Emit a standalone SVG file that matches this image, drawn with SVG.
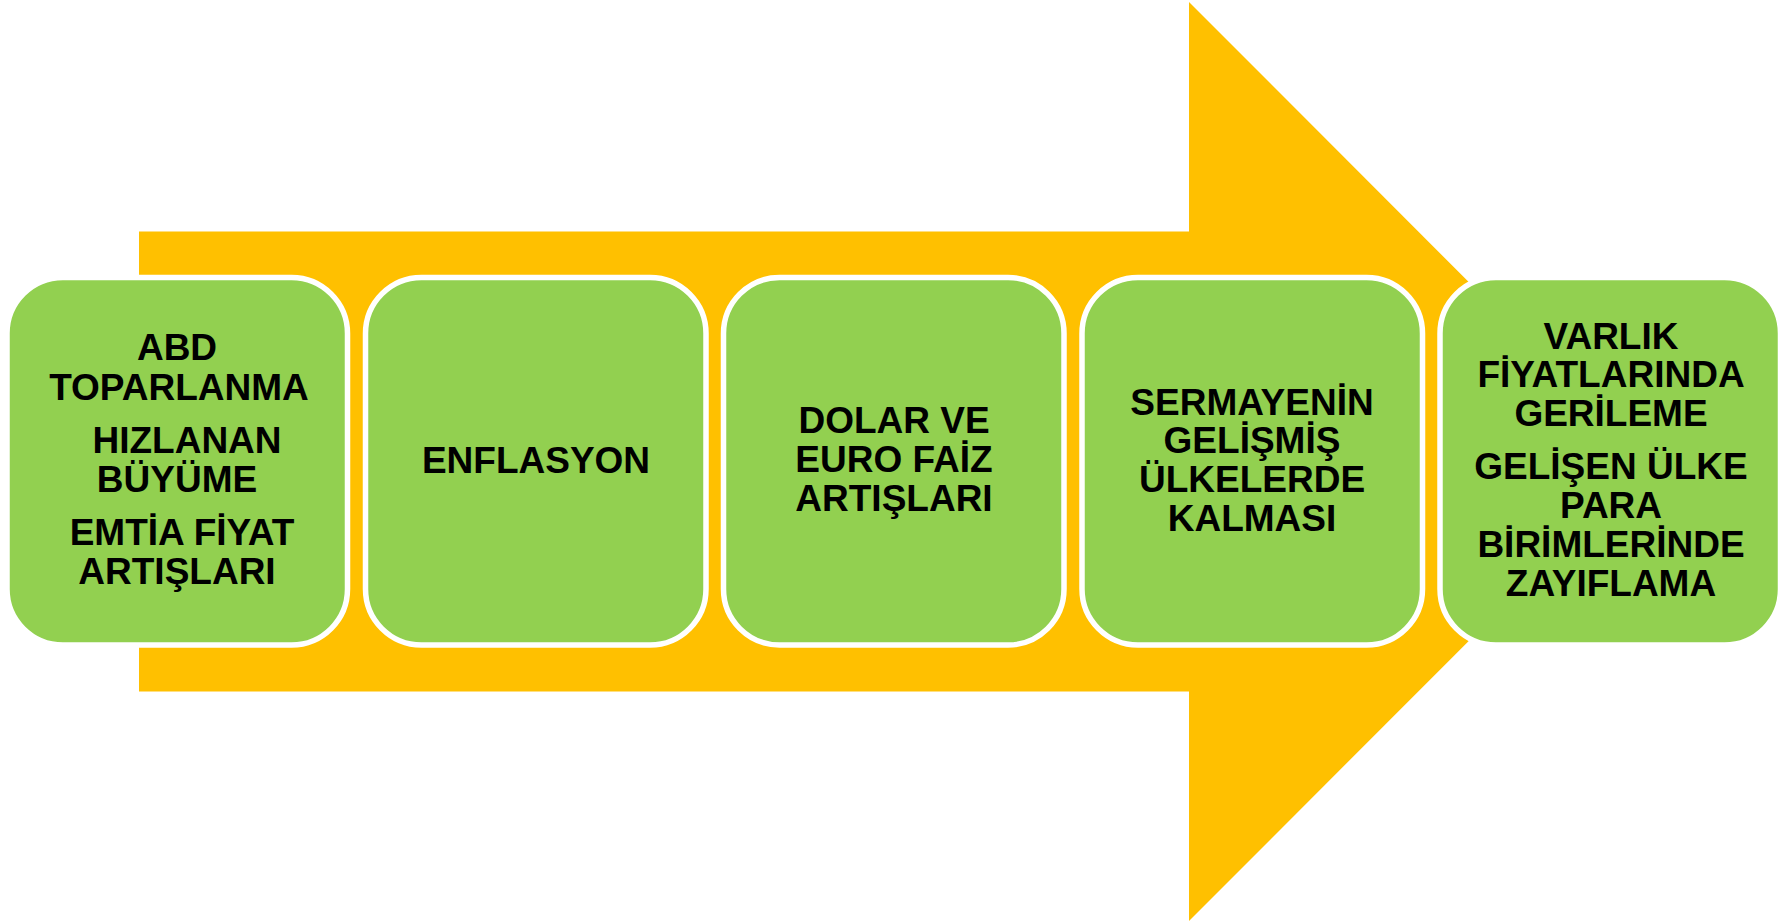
<svg xmlns="http://www.w3.org/2000/svg" width="1791" height="922" viewBox="0 0 1791 922">
<style>
.box{fill:#92D050;stroke:#FFFFFF;stroke-width:5.5}
.t{font-family:"Liberation Sans",Arial,sans-serif;font-weight:bold;font-size:37px;fill:#000000;text-anchor:middle}
</style>
<rect width="1791" height="922" fill="#FFFFFF"/>
<g id="arrow">
<polygon points="139,231.5 1189,231.5 1189,2 1648,461.5 1189,921 1189,691.5 139,691.5" fill="#FFC000"/>
</g>
<g id="connectors"></g>
<g id="node1">
<rect class="box" x="7" y="277.5" width="340.5" height="367.5" rx="56" ry="56"/>
<text class="t"><tspan x="177" y="360">ABD</tspan><tspan x="179" y="400">TOPARLANMA</tspan><tspan x="187" y="453">HIZLANAN</tspan><tspan x="177" y="492">BÜYÜME</tspan><tspan x="182" y="545">EMTİA FİYAT</tspan><tspan x="177" y="584">ARTIŞLARI</tspan></text>
</g>
<g id="node2">
<rect class="box" x="365.5" y="277.5" width="340.5" height="367.5" rx="56" ry="56"/>
<text class="t" x="536" y="473">ENFLASYON</text>
</g>
<g id="node3">
<rect class="box" x="723.5" y="277.5" width="340.5" height="367.5" rx="56" ry="56"/>
<text class="t"><tspan x="894" y="433">DOLAR VE</tspan><tspan x="894" y="472">EURO FAİZ</tspan><tspan x="894" y="511">ARTIŞLARI</tspan></text>
</g>
<g id="node4">
<rect class="box" x="1082" y="277.5" width="340.5" height="367.5" rx="56" ry="56"/>
<text class="t"><tspan x="1252" y="415">SERMAYENİN</tspan><tspan x="1252" y="453">GELİŞMİŞ</tspan><tspan x="1252" y="492">ÜLKELERDE</tspan><tspan x="1252" y="531">KALMASI</tspan></text>
</g>
<g id="node5">
<rect class="box" x="1440" y="277.5" width="340.5" height="367.5" rx="56" ry="56"/>
<text class="t"><tspan x="1611" y="349">VARLIK</tspan><tspan x="1611" y="387">FİYATLARINDA</tspan><tspan x="1611" y="426">GERİLEME</tspan><tspan x="1611" y="479">GELİŞEN ÜLKE</tspan><tspan x="1611" y="518">PARA</tspan><tspan x="1611" y="557">BİRİMLERİNDE</tspan><tspan x="1611" y="596">ZAYIFLAMA</tspan></text>
</g>
</svg>
